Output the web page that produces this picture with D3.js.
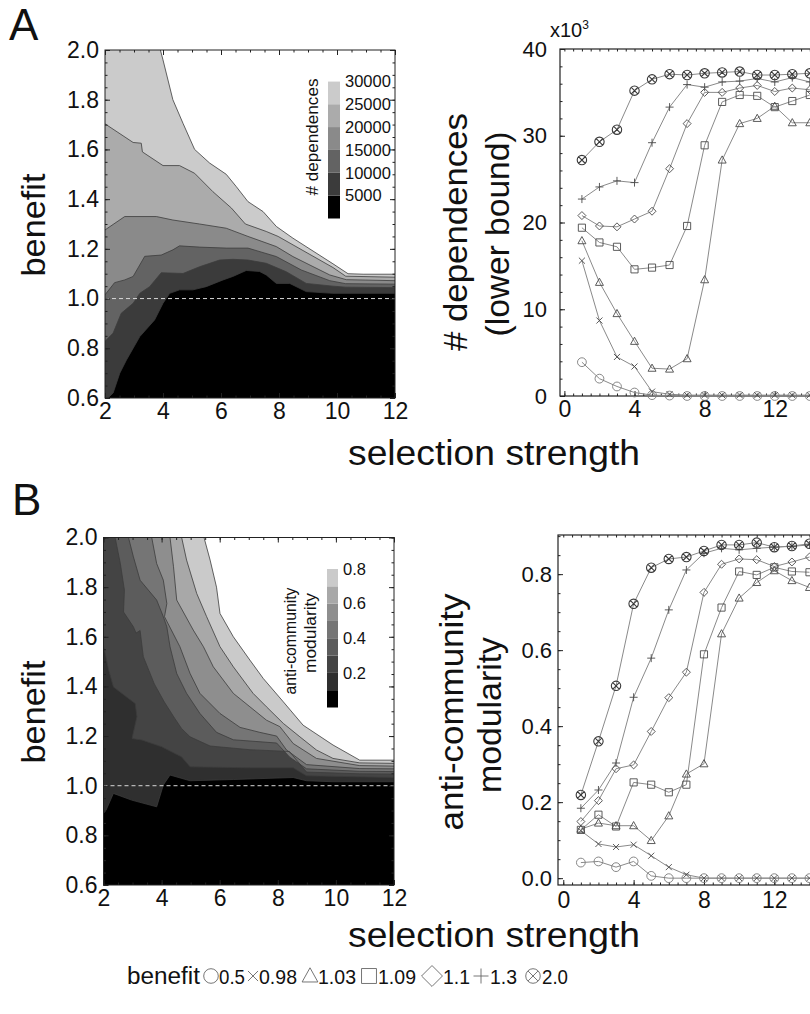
<!DOCTYPE html>
<html><head><meta charset="utf-8">
<script src="https://cdn.jsdelivr.net/npm/d3@7"></script>
<style>
body{margin:0;background:#fff}
svg{display:block}
text{font-family:"Liberation Sans",Arial,sans-serif;fill:#111}
</style>
</head><body>
<svg id="c" width="810" height="1014"></svg>
<script>
// ================= DATA =================
const selTicks = [2,4,6,8,10,12];
const benefitTicks = [0.6,0.8,1.0,1.2,1.4,1.6,1.8,2.0];

// Panel A (contour): number of dependences, boundary lines [selection strength, benefit]
const depLevels = [5000,10000,15000,20000,25000,30000];
const depBandColors = ["#000000","#3b3b3b","#636363","#8a8a8a","#ababab","#cbcbcb","#ffffff"];
const dep5000  = [[2.1,0.6],[2.28,0.62],[2.51,0.70],[2.74,0.753],[3.2,0.847],[3.71,0.914],[4.0,0.981],[4.23,1.021],[4.57,1.035],[5.03,1.035],[5.49,1.048],[6.07,1.075],[6.41,1.089],[6.87,1.113],[7.33,1.109],[7.56,1.095],[7.91,1.061],[8.37,1.061],[8.94,1.028],[9.86,1.021],[12,1.021]];
const dep10000 = [[2,0.828],[2.28,0.861],[2.56,0.941],[2.97,0.981],[3.2,1.021],[3.54,1.048],[3.94,1.104],[4.69,1.101],[5.26,1.128],[5.95,1.155],[6.41,1.158],[6.93,1.155],[7.56,1.142],[8.25,1.108],[8.94,1.061],[9.86,1.05],[10.3,1.046],[12,1.044]];
const dep15000 = [[2,1.015],[2.33,1.064],[2.68,1.075],[2.97,1.089],[3.37,1.17],[3.94,1.175],[4.34,1.196],[4.57,1.212],[5.26,1.207],[6.18,1.203],[6.93,1.203],[7.91,1.169],[8.77,1.115],[9.75,1.072],[10.3,1.06],[12,1.058]];
const dep20000 = [[2,1.276],[2.68,1.33],[3.77,1.33],[4.34,1.316],[5.26,1.30],[6.18,1.283],[6.93,1.25],[7.91,1.209],[8.48,1.169],[9.75,1.095],[10.32,1.076],[12,1.072]];
const dep25000 = [[2,1.703],[2.97,1.628],[3.25,1.625],[3.29,1.59],[4.0,1.535],[4.57,1.535],[5.09,1.504],[5.72,1.43],[6.36,1.364],[6.84,1.30],[7.56,1.27],[7.97,1.25],[9.86,1.125],[10.3,1.09],[12,1.086]];
const dep30000 = [[3.91,2.0],[4.0,1.96],[4.34,1.80],[4.69,1.705],[5.09,1.60],[5.61,1.545],[6.18,1.50],[6.53,1.45],[6.93,1.39],[7.45,1.35],[7.91,1.29],[8.48,1.243],[9.86,1.14],[10.38,1.10],[10.9,1.098],[12,1.098]];
const depBarTicks = [5000,10000,15000,20000,25000,30000];

// Panel B (contour): anti-community modularity
const modLevels = [0.1,0.2,0.3,0.4,0.5,0.6,0.7,0.8];
const modBandColors = ["#000000","#2f2f2f","#444444","#5c5c5c","#757575","#8e8e8e","#a8a8a8","#cacaca","#ffffff"];
const mod01 = [[2,0.889],[2.09,0.902],[2.34,0.969],[2.97,0.942],[3.83,0.915],[4.06,1.003],[4.29,1.043],[4.98,1.020],[6.47,1.025],[8.53,1.033],[8.99,1.020],[9.90,1.016],[12,1.016]];
const mod02 = [[2,1.566],[2.17,1.47],[2.34,1.398],[3.09,1.331],[3.15,1.278],[2.98,1.19],[3.32,1.184],[4.0,1.157],[4.69,1.116],[4.98,1.076],[7.04,1.072],[8.53,1.072],[8.99,1.040],[12,1.033]];
const mod03 = [[2.40,2.0],[2.58,1.895],[2.72,1.788],[2.69,1.70],[3.03,1.64],[3.12,1.615],[3.26,1.625],[3.37,1.52],[3.75,1.41],[4.09,1.338],[4.46,1.27],[4.69,1.23],[4.98,1.197],[5.67,1.16],[7.04,1.145],[8.40,1.138],[8.99,1.055],[10.82,1.048],[12,1.047]];
const mod04 = [[2.86,2.0],[3.03,1.922],[3.26,1.828],[3.83,1.748],[4.06,1.681],[4.18,1.640],[4.29,1.560],[4.52,1.452],[4.86,1.372],[5.32,1.291],[5.89,1.215],[6.47,1.185],[7.96,1.172],[8.41,1.115],[8.99,1.068],[10.82,1.058],[12,1.057]];
const mod05 = [[3.66,2.0],[3.83,1.895],[4.06,1.828],[4.18,1.734],[4.10,1.681],[4.63,1.560],[4.98,1.452],[5.32,1.372],[6.01,1.291],[6.70,1.235],[7.38,1.215],[7.96,1.200],[8.30,1.144],[8.99,1.085],[10.82,1.069],[12,1.068]];
const mod06 = [[4.29,2.0],[4.41,1.882],[4.52,1.748],[5.09,1.627],[5.44,1.560],[5.78,1.479],[6.47,1.372],[7.04,1.318],[7.61,1.264],[8.07,1.238],[8.53,1.170],[9.33,1.110],[10.82,1.081],[12,1.079]];
const mod07 = [[4.69,2.0],[4.86,1.909],[5.21,1.774],[5.55,1.681],[6.01,1.560],[6.47,1.479],[7.15,1.372],[7.61,1.318],[8.19,1.251],[8.76,1.197],[9.33,1.144],[9.90,1.110],[10.82,1.092],[12,1.090]];
const mod08 = [[5.46,2.0],[5.67,1.909],[5.89,1.80],[6.01,1.694],[6.47,1.60],[7.04,1.506],[7.50,1.432],[8.19,1.338],[8.87,1.244],[9.90,1.164],[10.82,1.103],[12,1.103]];
const modBarTicks = [0.2,0.4,0.6,0.8];

// Right panels: series per benefit value vs selection strength
const steps = [1,2,3,4,5,6,7,8,9,10,11,12,13,14];
const benefitNames = ["0.5","0.98","1.03","1.09","1.1","1.3","2.0"];
const benefitSymbols = ["circle","cross","triangle","square","diamond","plus","otimes"];
// # dependences (x10^3)
const dep_b050 = [3.9,2.0,1.1,0.4,0.1,0.05,0,0,0,0,0,0,0,0];
const dep_b098 = [15.6,8.7,4.5,3.4,0.5,0.2,0.1,0.1,0.1,0.1,0.1,0.1,0.1,0.1];
const dep_b103 = [17.9,13.1,9.5,6.3,3.2,3.1,4.3,13.4,27.2,31.4,32.0,33.4,31.5,31.5];
const dep_b109 = [19.4,17.7,17.2,14.6,14.8,15.1,19.6,28.9,33.9,34.7,34.6,33.3,34.0,34.7];
const dep_b110 = [20.8,19.6,19.5,20.4,21.3,26.2,31.4,35.0,35.0,35.5,35.8,35.1,35.5,35.3];
const dep_b130 = [22.7,24.1,24.8,24.6,29.2,33.3,35.9,35.6,36.2,36.3,36.6,36.2,36.7,36.2];
const dep_b200 = [27.2,29.3,30.7,35.2,36.5,37.1,37.0,37.2,37.3,37.4,37.0,37.0,37.1,37.2];
const depYTicks = [0,10,20,30,40];
// anti-community modularity
const mod_b050 = [0.041,0.044,0.029,0.044,0.006,0,0,0,0,0,0,0,0,0];
const mod_b098 = [0.125,0.090,0.082,0.088,0.059,0.029,0.009,0,0,0,0,0,0,0];
const mod_b103 = [0.129,0.145,0.138,0.138,0.099,0.164,0.274,0.301,0.643,0.737,0.778,0.809,0.783,0.765];
const mod_b109 = [0.127,0.167,0.136,0.252,0.246,0.226,0.246,0.589,0.712,0.807,0.798,0.818,0.807,0.805];
const mod_b110 = [0.149,0.204,0.288,0.298,0.386,0.475,0.542,0.752,0.826,0.840,0.838,0.820,0.832,0.845];
const mod_b130 = [0.184,0.232,0.303,0.476,0.579,0.706,0.811,0.855,0.868,0.864,0.868,0.871,0.873,0.877];
const mod_b200 = [0.219,0.360,0.506,0.722,0.817,0.840,0.845,0.861,0.877,0.877,0.883,0.871,0.874,0.880];
const modYTicks = [0.0,0.2,0.4,0.6,0.8];
const stepTicks = [0,4,8,12];

// ================= DRAW =================
const svg = d3.select("#c");
const FRAME = "#222";

function symPath(type, s) {
  const circ = r => `M${-r},0a${r},${r} 0 1,0 ${2*r},0a${r},${r} 0 1,0 ${-2*r},0`;
  switch (type) {
    case "circle": return circ(s);
    case "cross": { const a = s*0.72; return `M${-a},${-a}L${a},${a}M${-a},${a}L${a},${-a}`; }
    case "triangle": { const w = s*0.95, h = s*0.9; return `M0,${-h*1.1}L${w},${h*0.8}L${-w},${h*0.8}Z`; }
    case "square": { const a = s*0.85; return `M${-a},${-a}h${2*a}v${2*a}h${-2*a}Z`; }
    case "diamond": { const a = s*0.95; return `M0,${-a}L${a},0L0,${a}L${-a},0Z`; }
    case "plus": { const a = s; return `M${-a},0h${2*a}M0,${-a}v${2*a}`; }
    case "otimes": { const r = s*1.12, a = r*0.68; return circ(r) + `M${-a},${-a}L${a},${a}M${-a},${a}L${a},${-a}`; }
  }
}

function styleAxis(g, fs) {
  g.select(".domain").remove();
  g.attr("font-family", "Liberation Sans, Arial, sans-serif").attr("font-size", fs);
  g.selectAll("line").attr("stroke", FRAME);
  g.selectAll("text").attr("fill", "#111");
}

function contourPanel(cfg) {
  const {x0, x1, y0, y1, lines, colors, clipId} = cfg;
  const xs = d3.scaleLinear().domain([2, 12]).range([x0, x1]);
  const ys = d3.scaleLinear().domain([0.6, 2.0]).range([y1, y0]);
  svg.append("clipPath").attr("id", clipId).append("rect")
    .attr("x", x0).attr("y", y0).attr("width", x1 - x0).attr("height", y1 - y0);
  const g = svg.append("g");
  const cg = g.append("g").attr("clip-path", `url(#${clipId})`);
  cg.append("rect").attr("x", x0).attr("y", y0).attr("width", x1 - x0).attr("height", y1 - y0).attr("fill", colors[0]);
  const line = d3.line().x(d => xs(d[0])).y(d => ys(d[1]));
  lines.forEach((ln, i) => {
    const poly = ln.slice();
    const sy = ln[0][1];
    poly.push([12, 2.0]);
    if (sy < 2.0 - 1e-9) poly.push([2, 2.0]);
    if (sy <= 0.6 + 1e-9) poly.push([2, 0.6]);
    cg.append("path").attr("d", line(poly) + "Z").attr("fill", colors[i + 1]);
  });
  lines.forEach(ln => cg.append("path").attr("d", line(ln)).attr("fill", "none")
    .attr("stroke", "#3c3c3c").attr("stroke-width", 0.8));
  cg.append("line").attr("x1", x0).attr("x2", x1).attr("y1", ys(1.0)).attr("y2", ys(1.0))
    .attr("stroke", "#d8d8d8").attr("stroke-width", 1).attr("stroke-dasharray", "4,3");
  g.append("rect").attr("x", x0).attr("y", y0).attr("width", x1 - x0).attr("height", y1 - y0)
    .attr("fill", "none").attr("stroke", FRAME).attr("stroke-width", 1);
  g.append("g").attr("transform", `translate(${x0},0)`)
    .call(d3.axisLeft(ys).tickValues(benefitTicks).tickFormat(d3.format(".1f")).tickSizeInner(-5).tickSizeOuter(0).tickPadding(6))
    .call(s => styleAxis(s, 23));
  g.append("g").attr("transform", `translate(0,${y1})`)
    .call(d3.axisBottom(xs).tickValues(selTicks).tickFormat(d3.format("d")).tickSizeInner(-5).tickSizeOuter(0).tickPadding(5))
    .call(s => styleAxis(s, 23));
  g.append("g").attr("transform", `translate(${x1},0)`)
    .call(d3.axisRight(ys).tickValues(benefitTicks).tickFormat("").tickSizeInner(-5).tickSizeOuter(0))
    .call(s => styleAxis(s, 10));
  g.append("g").attr("transform", `translate(0,${y0})`)
    .call(d3.axisTop(xs).tickValues(selTicks).tickFormat("").tickSizeInner(-5).tickSizeOuter(0))
    .call(s => styleAxis(s, 10));
  const yMinor = d3.range(0.6, 2.0001, 0.05);
  const xMinor = d3.range(2, 12.0001, 0.5);
  [[d3.axisLeft, x0], [d3.axisRight, x1]].forEach(([ax, tx]) =>
    g.append("g").attr("transform", `translate(${tx},0)`)
      .call(ax(ys).tickValues(yMinor).tickFormat("").tickSizeInner(-2.5).tickSizeOuter(0))
      .call(s => styleAxis(s, 10)));
  [[d3.axisBottom, y1], [d3.axisTop, y0]].forEach(([ax, ty]) =>
    g.append("g").attr("transform", `translate(0,${ty})`)
      .call(ax(xs).tickValues(xMinor).tickFormat("").tickSizeInner(-2.5).tickSizeOuter(0))
      .call(s => styleAxis(s, 10)));
  return {xs, ys, g};
}

function colorBar(cfg) {
  const {x, w, yTop, yBot, domain, levels, colors, ticks, fmt} = cfg;
  const s = d3.scaleLinear().domain(domain).range([yBot, yTop]);
  const edges = [domain[0], ...levels, domain[1]];
  const g = svg.append("g");
  colors.forEach((c, i) => {
    g.append("rect").attr("x", x).attr("width", w)
      .attr("y", s(edges[i + 1])).attr("height", s(edges[i]) - s(edges[i + 1])).attr("fill", c);
  });
  ticks.forEach(t => g.append("text").attr("x", x + w + 5).attr("y", s(t)).attr("dy", "0.35em")
    .attr("font-family", "Liberation Serif, Times New Roman, serif").attr("font-size", 16.5)
    .text(fmt(t)));
}

function rotText(x, y, txt, fs, len) {
  const t = svg.append("text").attr("transform", `translate(${x},${y}) rotate(-90)`)
    .attr("text-anchor", "middle").attr("font-size", fs).text(txt);
  if (len) t.attr("textLength", len).attr("lengthAdjust", "spacingAndGlyphs");
  return t;
}

function seriesPanel(cfg) {
  const {x0, x1, y0, y1, xDomain, yDomain, series, yTicks, yFmt, yPad, xPad, yMinorStep} = cfg;
  const xs = d3.scaleLinear().domain(xDomain).range([x0, x1]);
  const ys = d3.scaleLinear().domain(yDomain).range([y1, y0]);
  const g = svg.append("g");
  g.append("rect").attr("x", x0).attr("y", y0).attr("width", x1 - x0).attr("height", y1 - y0)
    .attr("fill", "none").attr("stroke", FRAME).attr("stroke-width", 1.2);
  g.append("g").attr("transform", `translate(${x0},0)`)
    .call(d3.axisLeft(ys).tickValues(yTicks).tickFormat(yFmt).tickSizeInner(-5).tickSizeOuter(0).tickPadding(yPad))
    .call(s => styleAxis(s, 22));
  g.append("g").attr("transform", `translate(0,${y1})`)
    .call(d3.axisBottom(xs).tickValues(stepTicks).tickFormat(d3.format("d")).tickSizeInner(-5).tickSizeOuter(0).tickPadding(xPad))
    .call(s => styleAxis(s, 23));
  const yMinor = d3.range(yDomain[0] < 0 ? 0 : yDomain[0], yDomain[1], yMinorStep);
  g.append("g").attr("transform", `translate(${x0},0)`)
    .call(d3.axisLeft(ys).tickValues(yMinor).tickFormat("").tickSizeInner(-2.5).tickSizeOuter(0))
    .call(s => styleAxis(s, 10));
  const xMinor = d3.range(0, 14.01, 0.5);
  g.append("g").attr("transform", `translate(0,${y1})`)
    .call(d3.axisBottom(xs).tickValues(xMinor).tickFormat("").tickSizeInner(-2.5).tickSizeOuter(0))
    .call(s => styleAxis(s, 10));
  g.append("g").attr("transform", `translate(0,${y0})`)
    .call(d3.axisTop(xs).tickValues(xMinor).tickFormat("").tickSizeInner(-2.5).tickSizeOuter(0))
    .call(s => styleAxis(s, 10));
  const line = d3.line().x((d, i) => xs(steps[i])).y(d => ys(d));
  series.forEach(vals => g.append("path").attr("d", line(vals)).attr("fill", "none")
    .attr("stroke", "#8a8a8a").attr("stroke-width", 1));
  series.forEach((vals, k) => {
    const type = benefitSymbols[k];
    const col = type === "otimes" ? "#3a3a3a" : (type === "circle" ? "#7a7a7a" : "#4a4a4a");
    vals.forEach((v, i) => g.append("path")
      .attr("transform", `translate(${xs(steps[i])},${ys(v)})`)
      .attr("d", symPath(type, type === "circle" ? 4.4 : (type === "plus" ? 4 : 4.2)))
      .attr("fill", "none").attr("stroke", col).attr("stroke-width", type === "otimes" ? 1.1 : 0.9));
  });
  return {xs, ys};
}

// ---- Panel A ----
svg.append("text").attr("x", 9).attr("y", 40).attr("font-size", 44).text("A");
contourPanel({x0: 105, x1: 395, y0: 50, y1: 398,
  lines: [dep5000, dep10000, dep15000, dep20000, dep25000, dep30000],
  colors: depBandColors, clipId: "clipA"});
colorBar({x: 328, w: 12, yTop: 58.5, yBot: 218.5, domain: [0, 35000], levels: depLevels,
  colors: depBandColors, ticks: depBarTicks, fmt: d3.format("d")});
rotText(318, 137, "# dependences", 16.5, 117);
rotText(45, 225, "benefit", 33, 103);

seriesPanel({x0: 560, x1: 915, y0: 49, y1: 396, xDomain: [-0.25, 20], yDomain: [0, 40],
  series: [dep_b050, dep_b098, dep_b103, dep_b109, dep_b110, dep_b130, dep_b200],
  yTicks: depYTicks, yFmt: d3.format("d"), yPad: 13, xPad: 5, yMinorStep: 2});
svg.append("text").attr("x", 550).attr("y", 37).attr("font-size", 20).text("x10")
  .append("tspan").attr("font-size", 12).attr("dy", -8).text("3");
rotText(467, 232, "# dependences", 33, 238);
rotText(509, 234, "(lower bound)", 33, 205);
svg.append("text").attr("x", 494).attr("y", 465).attr("text-anchor", "middle")
  .attr("font-size", 35).attr("textLength", 292).attr("lengthAdjust", "spacingAndGlyphs").text("selection strength");

// ---- Panel B ----
svg.append("text").attr("x", 12).attr("y", 515).attr("font-size", 44).text("B");
contourPanel({x0: 103.5, x1: 394, y0: 537.5, y1: 885,
  lines: [mod01, mod02, mod03, mod04, mod05, mod06, mod07, mod08],
  colors: modBandColors, clipId: "clipB"});
colorBar({x: 327, w: 11, yTop: 551.7, yBot: 707.5, domain: [0, 0.9], levels: modLevels,
  colors: modBandColors, ticks: modBarTicks, fmt: d3.format(".1f")});
rotText(296, 641, "anti-community", 16, 107);
rotText(316, 633, "modularity", 16, 80);
rotText(45, 712, "benefit", 33, 103);

seriesPanel({x0: 558, x1: 915, y0: 535, y1: 885, xDomain: [-0.3, 20], yDomain: [-0.018, 0.903],
  series: [mod_b050, mod_b098, mod_b103, mod_b109, mod_b110, mod_b130, mod_b200],
  yTicks: modYTicks, yFmt: d3.format(".1f"), yPad: 6, xPad: 7, yMinorStep: 0.05});
rotText(463, 712, "anti-community", 34, 237);
rotText(501, 715, "modularity", 34, 156);
svg.append("text").attr("x", 494).attr("y", 947).attr("text-anchor", "middle")
  .attr("font-size", 35).attr("textLength", 292).attr("lengthAdjust", "spacingAndGlyphs").text("selection strength");

// ---- Legend ----
const leg = svg.append("g");
leg.append("text").attr("x", 127).attr("y", 984).attr("font-size", 23)
  .attr("textLength", 73).attr("lengthAdjust", "spacingAndGlyphs").text("benefit");
const legSymX = [211, 253, 310, 369, 432, 481, 533];
const legTxtX = [219, 259, 318, 378, 443, 490, 542];
const legTxtLen = [26, 38, 38, 38, 27, 27, 26];
const legSize = [7.3, 7, 8.3, 8.8, 11, 7.5, 6.5];
benefitNames.forEach((nm, k) => {
  leg.append("path").attr("transform", `translate(${legSymX[k]},976)`)
    .attr("d", symPath(benefitSymbols[k], legSize[k]))
    .attr("fill", "none").attr("stroke", "#666").attr("stroke-width", 0.9);
  leg.append("text").attr("x", legTxtX[k]).attr("y", 984).attr("font-size", 20)
    .attr("textLength", legTxtLen[k]).attr("lengthAdjust", "spacingAndGlyphs").text(nm);
});
</script>
</body></html>
